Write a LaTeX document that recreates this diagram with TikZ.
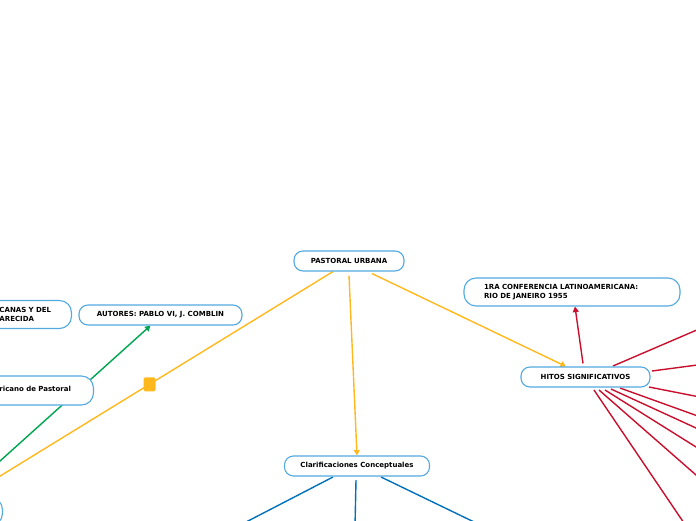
\documentclass[tikz,border=0pt]{standalone}
\usepackage{fontspec}
\setmainfont{DejaVu Sans}
\usetikzlibrary{arrows.meta,backgrounds}

\definecolor{PUBorder}{RGB}{82,169,224}
\definecolor{PUOrange}{RGB}{255,184,28}
\definecolor{PUGreen}{RGB}{0,166,81}
\definecolor{PURed}{RGB}{200,16,46}
\definecolor{PUBlue}{RGB}{0,114,188}

\begin{document}
\begin{tikzpicture}[x=1pt,y=-1pt,font=\fontsize{7}{9}\selectfont\bfseries,
  topic/.style={draw=PUBorder,line width=1.1pt,fill=white,rounded corners=9pt,
    minimum height=20pt,inner xsep=16pt,inner ysep=2pt},
  bigtopic/.style={topic,rounded corners=12pt,minimum height=28pt,align=left},
  link/.style={line width=1.4pt},
  tip/.style={-{Triangle[length=5.5pt,width=6pt]}}]
  \useasboundingbox (0,0) rectangle (696,520);

  % topics (the left ones run past the page edge)
  \node[topic,minimum width=110pt] (pastoral) at (349,261) {PASTORAL URBANA};
  \node[topic,minimum width=163pt] (autores) at (160.5,315) {AUTORES: PABLO VI, J. COMBLIN};
  \node[bigtopic,text width=56pt,anchor=east] (conflat) at (72,314.5) {CANAS Y DEL\\ARECIDA};
  \node[bigtopic,text width=78pt,minimum height=29pt,anchor=east] (congreso) at (94,390.5)
    {\raisebox{3pt}{ricano de Pastoral}};
  \node[bigtopic,minimum width=60pt,anchor=north east] (base) at (3,497) {};
  \node[bigtopic,text width=176pt,inner xsep=20pt] (conf1955) at (572,292)
    {1RA CONFERENCIA LATINOAMERICANA:\\RIO DE JANEIRO 1955};
  \node[topic,minimum width=129pt] (hitos) at (585.5,377) {HITOS SIGNIFICATIVOS};
  \node[topic,minimum width=144pt] (clarif) at (357,466) {Clarificaciones Conceptuales};

  \begin{scope}[on background layer]
    \draw[link,PUOrange] ([xshift=-16pt]pastoral.south) -- ([xshift=-37pt]base.north east)
      node[midway,name=fold,fill=PUOrange,rounded corners=1.5pt,inner sep=0pt,
        minimum width=12pt,minimum height=14pt] {};
    \draw[link,tip,PUOrange] ([yshift=-4pt]pastoral.south) -- (clarif.north);
    \draw[link,tip,PUOrange] ([xshift=23pt,yshift=-2pt]pastoral.south) -- ([xshift=-19.5pt]hitos.north);
    \draw[link,tip,PUGreen] ([xshift=-43pt]base.north east) -- ([xshift=-10pt]autores.south);
    \draw[link,tip,PURed] ([xshift=-2.5pt,yshift=3pt]hitos.north) -- ([xshift=3pt]conf1955.south);

    \foreach \dx/\dy/\ex/\ey [count=\i] in {27.5/-11/720/320,66.5/-6/720/362,63.5/10/720/401,
        34.5/11/720/424,25.5/12/720/439,19.5/13/720/462,13.5/13/720/496,8.5/13/709/560} {
      \coordinate (hito\i) at (\ex,\ey);
      \draw[link,PURed] ([shift={(\dx,\dy)}]hitos.center) -- (hito\i);
    }
    \foreach \dx/\dy/\ex/\ey [count=\i] in {-24/11/192/550,-1/14/354.5/550,24/11/532/550} {
      \coordinate (concepto\i) at (\ex,\ey);
      \draw[link,PUBlue] ([shift={(\dx,\dy)}]clarif.center) -- (concepto\i);
    }
  \end{scope}
\end{tikzpicture}
\end{document}
